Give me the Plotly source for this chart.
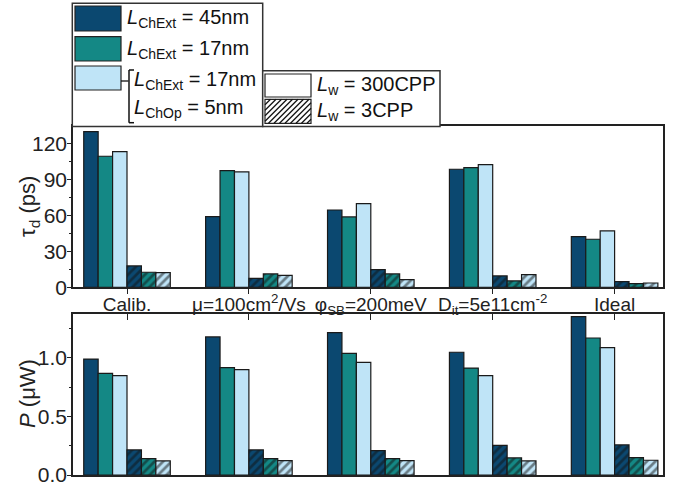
import plotly.graph_objects as go

categories = ["Calib.", "μ=100cm<sup>2</sup>/Vs", "φ<sub>SB</sub>=200meV",
              "D<sub>it</sub>=5e11cm<sup>-2</sup>", "Ideal"]
series_names = ["45nm 300CPP", "17nm 300CPP", "17nm/5nm 300CPP",
                "45nm 3CPP", "17nm 3CPP", "17nm/5nm 3CPP"]

# tau_d (ps)
tau_45_300 = [130.3, 59.2, 64.7, 98.8, 42.4]
tau_17_300 = [109.7, 97.7, 58.9, 100.2, 40.2]
tau_op_300 = [113.6, 96.6, 70.0, 102.7, 47.2]
tau_45_3 = [17.9, 7.5, 14.8, 9.5, 4.7]
tau_17_3 = [12.6, 11.2, 11.2, 5.3, 3.1]
tau_op_3 = [12.3, 10.0, 6.4, 10.6, 3.6]

# P (uW)
p_45_300 = [0.991, 1.18, 1.217, 1.049, 1.354]
p_17_300 = [0.869, 0.917, 1.04, 0.914, 1.171]
p_op_300 = [0.849, 0.90, 0.963, 0.849, 1.089]
p_45_3 = [0.214, 0.214, 0.209, 0.254, 0.257]
p_17_3 = [0.14, 0.14, 0.14, 0.146, 0.149]
p_op_3 = [0.12, 0.123, 0.123, 0.12, 0.126]

C_DARK = "#0b4870"
C_TEAL = "#148885"
C_LIGHT = "#bfe4f7"
colors = [C_DARK, C_TEAL, C_LIGHT, C_DARK, C_TEAL, C_LIGHT]
hatched = [False, False, False, True, True, True]

tau_series = [tau_45_300, tau_17_300, tau_op_300, tau_45_3, tau_17_3, tau_op_3]
p_series = [p_45_300, p_17_300, p_op_300, p_45_3, p_17_3, p_op_3]

FONT = "Liberation Sans, Arial, sans-serif"
W, H = 688, 488
ML, MR, MT, MB = 73, 25, 126, 13
PW, PH = W - ML - MR, H - MT - MB


def px(x):
    return (x - ML) / PW


def py(y):
    return (H - MB - y) / PH


fig = go.Figure()
xs = list(range(len(categories)))

for i in range(6):
    pat = dict(shape="/", fgcolor="#111111", size=6, solidity=0.45, fillmode="overlay") if hatched[i] else dict(shape="")
    fig.add_trace(go.Bar(x=xs, y=tau_series[i], name=series_names[i], marker=dict(
        color=colors[i], line=dict(color="#1a1a1a", width=1.2), pattern=pat),
        xaxis="x", yaxis="y", showlegend=False, offsetgroup=str(i)))
    fig.add_trace(go.Bar(x=xs, y=p_series[i], name=series_names[i], marker=dict(
        color=colors[i], line=dict(color="#1a1a1a", width=1.2), pattern=pat),
        xaxis="x2", yaxis="y2", showlegend=False, offsetgroup=str(i)))

top_dom = [py(287.3), py(126)]
bot_dom = [py(475), py(314)]
xr = [-0.443, 4.397]

axis_common = dict(showline=True, linecolor="#222222", linewidth=1.5, mirror=True,
                   showgrid=False, zeroline=False, automargin=False)

fig.update_layout(
    width=W, height=H, margin=dict(l=ML, r=MR, t=MT, b=MB, autoexpand=False),
    plot_bgcolor="white", paper_bgcolor="white",
    barmode="group", bargap=0.29, bargroupgap=0,
    font=dict(family=FONT, color="#222222", size=19),
    xaxis=dict(domain=[0, 1], anchor="y", range=xr, tickmode="array", tickvals=xs,
               ticktext=categories, ticks="outside", ticklen=5, tickcolor="#222222",
               tickfont=dict(size=19), ticklabelstandoff=-6, **axis_common),
    yaxis=dict(domain=top_dom, anchor="x", range=[0, 135], tickmode="array",
               tickvals=[0, 30, 60, 90, 120], ticks="outside", ticklen=4,
               tickcolor="#222222", tickfont=dict(size=21), ticklabelstandoff=-4,
               minor=dict(tickvals=[15, 45, 75, 105], ticks="outside", ticklen=2,
                          tickcolor="#222222"), **axis_common),
    xaxis2=dict(domain=[0, 1], anchor="y2", range=xr, side="top", tickmode="array",
                tickvals=xs, ticks="inside", ticklen=6, tickcolor="#222222",
                showticklabels=False, **axis_common),
    yaxis2=dict(domain=bot_dom, anchor="x2", range=[0, 1.376], tickmode="array",
                tickvals=[0, 0.5, 1.0], ticktext=["0.0", "0.5", "1.0"], ticks="outside",
                ticklen=4, tickcolor="#222222", tickfont=dict(size=21), ticklabelstandoff=-4,
                minor=dict(tickvals=[0.25, 0.75, 1.25], ticks="outside", ticklen=2,
                           tickcolor="#222222"), **axis_common),
)

# Y axis titles
fig.add_annotation(text="τ<sub>d</sub> (ps)", xref="paper", yref="paper",
                   x=px(29), y=py(207), textangle=-90, showarrow=False,
                   xanchor="center", yanchor="middle",
                   font=dict(size=22, family=FONT, color="#222222"))
fig.add_annotation(text="<i>P</i> (μW)", xref="paper", yref="paper",
                   x=px(27), y=py(394), textangle=-90, showarrow=False,
                   xanchor="center", yanchor="middle",
                   font=dict(size=22, family=FONT, color="#222222"))

LC = "#333333"


def rect(x0, y0, x1, y1, fill="rgba(0,0,0,0)", lw=1.5, color=LC):
    fig.add_shape(type="rect", xref="paper", yref="paper", x0=px(x0), x1=px(x1),
                  y0=py(y0), y1=py(y1), fillcolor=fill, line=dict(color=color, width=lw),
                  layer="above")


def line(x0, y0, x1, y1, lw=1.5, color=LC):
    fig.add_shape(type="line", xref="paper", yref="paper", x0=px(x0), x1=px(x1),
                  y0=py(y0), y1=py(y1), line=dict(color=color, width=lw), layer="above")


def label(x, y, text, size=20):
    fig.add_annotation(text=text, xref="paper", yref="paper", x=px(x), y=py(y),
                       xanchor="left", yanchor="middle", showarrow=False,
                       font=dict(size=size, family=FONT, color="#111111"))


# legend boxes
rect(72.3, 3.3, 262.7, 126.5, fill="white")
rect(262.7, 70.7, 440, 126.5, fill="white")

# swatches
rect(75, 6, 121, 31, fill=C_DARK, lw=1.2, color="#222222")
rect(75, 36.7, 121, 61, fill=C_TEAL, lw=1.2, color="#222222")
rect(75, 66, 121, 90, fill=C_LIGHT, lw=1.2, color="#222222")
rect(265, 74, 311, 97, fill="white", lw=1.2, color="#222222")
rect(265, 99.3, 311, 123.3, fill="white", lw=1.2, color="#222222")

# hatching of the 3CPP swatch
sx0, sx1, sy0, sy1 = 265, 311, 99.3, 123.3
hgt = sy1 - sy0
k = sx0 - hgt
while k < sx1:
    xa, ya, xb, yb = k, sy1, k + hgt, sy0
    if xa < sx0:
        ya = sy1 - (sx0 - xa)
        xa = sx0
    if xb > sx1:
        yb = sy0 + (xb - sx1)
        xb = sx1
    if xb > xa:
        line(xa, ya, xb, yb, lw=1.3, color="#111111")
    k += 5.5

# bracket
line(121, 81, 128.5, 81, lw=1.3, color="#111111")
line(129, 70, 129, 122.7, lw=1.5, color="#111111")
line(129, 70, 134, 70, lw=1.5, color="#111111")
line(129, 122.7, 134, 122.7, lw=1.5, color="#111111")

label(125, 19, "<i>L</i><sub>ChExt</sub> = 45nm")
label(125, 49, "<i>L</i><sub>ChExt</sub> = 17nm")
label(132, 80, "<i>L</i><sub>ChExt</sub> = 17nm")
label(132, 108, "<i>L</i><sub>ChOp</sub> = 5nm")
label(315, 85, "<i>L</i><sub>w</sub> = 300CPP")
label(315, 111, "<i>L</i><sub>w</sub> = 3CPP")

fig.write_html("out.html", config={"displayModeBar": False},
               post_script="document.body.style.margin='0';")
